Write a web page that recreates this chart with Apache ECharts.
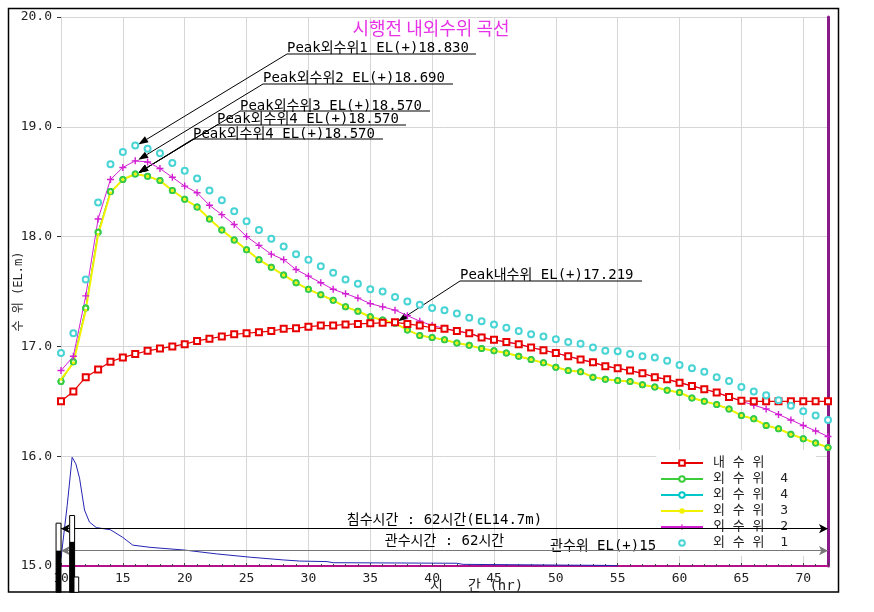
<!DOCTYPE html>
<html>
<head>
<meta charset="utf-8">
<title>시행전 내외수위 곡선</title>
<script src="https://cdn.jsdelivr.net/npm/echarts@6/dist/echarts.min.js"></script>
<style>
  html, body { margin: 0; padding: 0; background: #fff; }
  #main { width: 874px; height: 612px; }
</style>
</head>
<body>
<div id="main"></div>
<script>
// hours on the x axis (hr)
const hours = [10, 11, 12, 13, 14, 15, 16, 17, 18, 19, 20, 21, 22, 23, 24, 25, 26, 27, 28, 29,
  30, 31, 32, 33, 34, 35, 36, 37, 38, 39, 40, 41, 42, 43, 44, 45, 46, 47, 48, 49,
  50, 51, 52, 53, 54, 55, 56, 57, 58, 59, 60, 61, 62, 63, 64, 65, 66, 67, 68, 69,
  70, 71, 72]

// 내수위
const innerLevel = [16.50, 16.59, 16.72, 16.79, 16.86, 16.90, 16.93, 16.96, 16.98, 17.00,
  17.02, 17.05, 17.07, 17.09, 17.11, 17.12, 17.13, 17.14, 17.16, 17.165,
  17.18, 17.19, 17.19, 17.20, 17.205, 17.21, 17.215, 17.219, 17.205, 17.19,
  17.17, 17.16, 17.14, 17.12, 17.08, 17.06, 17.04, 17.02, 16.99, 16.965,
  16.94, 16.91, 16.88, 16.855, 16.82, 16.80, 16.78, 16.755, 16.72, 16.70,
  16.67, 16.64, 16.61, 16.58, 16.54, 16.505, 16.50, 16.50, 16.50, 16.50,
  16.50, 16.50, 16.50]

// 외수위 1
const outer1 = [16.94, 17.12, 17.61, 18.31, 18.66, 18.77, 18.83, 18.80, 18.76, 18.67,
  18.60, 18.53, 18.42, 18.33, 18.23, 18.14, 18.06, 17.98, 17.91, 17.84,
  17.79, 17.73, 17.67, 17.61, 17.57, 17.52, 17.50, 17.45, 17.41, 17.38,
  17.35, 17.33, 17.30, 17.26, 17.23, 17.20, 17.17, 17.14, 17.11, 17.09,
  17.065, 17.04, 17.025, 16.99, 16.96, 16.955, 16.93, 16.91, 16.90, 16.87,
  16.83, 16.80, 16.77, 16.72, 16.685, 16.63, 16.59, 16.555, 16.51, 16.46,
  16.41, 16.37, 16.33]

// 외수위 2
const outer2 = [16.78, 16.91, 17.46, 18.16, 18.52, 18.63, 18.69, 18.68, 18.62, 18.54,
  18.46, 18.40, 18.285, 18.20, 18.11, 18.00, 17.92, 17.84, 17.79, 17.70,
  17.64, 17.58, 17.52, 17.48, 17.44, 17.39, 17.36, 17.33, 17.28, 17.23,
  17.19, 17.165, 17.14, 17.12, 17.085, 17.06, 17.04, 17.02, 16.99, 16.965,
  16.94, 16.91, 16.88, 16.855, 16.82, 16.80, 16.78, 16.755, 16.72, 16.70,
  16.67, 16.64, 16.61, 16.58, 16.54, 16.50, 16.465, 16.43, 16.38, 16.33,
  16.28, 16.23, 16.18]

// 외수위 3
const outer3 = [16.70, 16.85, 17.33, 18.02, 18.40, 18.52, 18.57, 18.55, 18.51, 18.42,
  18.34, 18.27, 18.16, 18.06, 17.97, 17.88, 17.79, 17.72, 17.65, 17.58,
  17.52, 17.47, 17.42, 17.36, 17.32, 17.27, 17.24, 17.21, 17.15, 17.10,
  17.08, 17.06, 17.03, 17.01, 16.98, 16.96, 16.94, 16.91, 16.88, 16.85,
  16.81, 16.78, 16.77, 16.72, 16.70, 16.69, 16.68, 16.65, 16.63, 16.60,
  16.58, 16.53, 16.50, 16.47, 16.43, 16.37, 16.34, 16.28, 16.25, 16.20,
  16.16, 16.12, 16.08]

// 외수위 4
const outer4 = [16.68, 16.86, 17.35, 18.04, 18.41, 18.52, 18.57, 18.55, 18.51, 18.42,
  18.34, 18.27, 18.16, 18.06, 17.97, 17.88, 17.79, 17.72, 17.65, 17.58,
  17.52, 17.47, 17.42, 17.36, 17.32, 17.27, 17.24, 17.21, 17.15, 17.10,
  17.08, 17.06, 17.03, 17.01, 16.98, 16.96, 16.94, 16.91, 16.88, 16.85,
  16.81, 16.78, 16.77, 16.72, 16.70, 16.69, 16.68, 16.65, 16.63, 16.60,
  16.58, 16.53, 16.50, 16.47, 16.43, 16.37, 16.34, 16.28, 16.25, 16.20,
  16.16, 16.12, 16.08]

// lower blue curve (irregular time steps)
const lowT = [10, 10.5, 10.9, 11.2, 11.5, 11.9, 12.3, 12.85, 14.0, 15.0, 15.8, 17.2,
  20.0, 22.6, 25.3, 28.0, 29.3, 31.5, 32.0, 42.0, 42.5, 54.4, 55.0]
const lowV = [15.07, 15.55, 15.99, 15.93, 15.80, 15.51, 15.40, 15.35, 15.33, 15.26, 15.19, 15.17,
  15.145, 15.11, 15.08, 15.055, 15.045, 15.04, 15.03, 15.025, 15.015, 15.005, 15.0]

// black bars at lower left
const barLeft = [9.6, 10.7, 11.05]
const barRight = [10.0, 11.1, 11.43]
const barTop = [15.39, 15.46, 14.90]
const barFill = [15.14, 15.22, null]
const barBase = 14.76

// reference levels
const floodLevel = 15.343
const drainLevel = 15.139

// peak annotations
const peakT = [16, 16, 16, 16, 16, 37]
const peakV = [18.83, 18.69, 18.57, 18.57, 18.57, 17.219]
const peakText = [
  'Peak외수위1 EL(+)18.830',
  'Peak외수위2 EL(+)18.690',
  'Peak외수위3 EL(+)18.570',
  'Peak외수위4 EL(+)18.570',
  'Peak외수위4 EL(+)18.570',
  'Peak내수위 EL(+)17.219',
]

const MONO = '"DejaVu Sans Mono", "Noto Sans CJK KR", monospace'
const pairs = vals => hours.map((h, i) => [h, vals[i]])
const plus = 'path://M4,0H6V10H4ZM0,4H10V6H0Z'

const chart = echarts.init(document.getElementById('main'))

const option = {
  animation: false,
  title: {
    text: '시행전 내외수위 곡선',
    left: 426,
    top: 14,
    textAlign: 'center',
    textStyle: { color: '#e632e6', fontSize: 18, fontWeight: 'normal', fontFamily: '"Noto Sans CJK KR"' },
  },
  legend: {
    orient: 'vertical',
    left: 656,
    top: 450,
    padding: [6, 20, 6, 4],
    itemGap: 2,
    itemWidth: 42,
    itemHeight: 7,
    backgroundColor: '#fff',
    textStyle: { fontFamily: MONO, fontSize: 13, color: '#222', padding: [0, 0, 0, 5], lineHeight: 14 },
    data: ['내 수 위', '외 수 위  4', '외 수 위  4 ', '외 수 위  3', '외 수 위  2', '외 수 위  1'],
  },
  grid: { left: 61, right: 46, top: 17, bottom: 46, outerBoundsMode: 'none' },
  xAxis: {
    type: 'value',
    min: 10,
    max: 72,
    interval: 5,
    name: '시   간 (hr)',
    nameLocation: 'middle',
    nameGap: 13,
    nameMoveOverlap: false,
    nameTextStyle: { fontFamily: MONO, fontSize: 14, color: '#222', padding: [0, 0, 0, 64] },
    axisLine: { onZero: false, lineStyle: { color: '#b4108c', width: 2 } },
    axisTick: { inside: true, length: 3, lineStyle: { color: '#444' } },
    minorTick: { show: true, splitNumber: 5, length: 2, lineStyle: { color: '#444' } },
    axisLabel: { fontFamily: MONO, fontSize: 13, color: '#222', margin: 6, showMaxLabel: false },
    splitLine: { show: true, lineStyle: { color: '#d6d6d6' } },
  },
  yAxis: [{
    type: 'value',
    min: 15,
    max: 20,
    interval: 1,
    name: '수 위 (EL.m)',
    nameLocation: 'middle',
    nameGap: 36,
    nameMoveOverlap: false,
    nameTextStyle: { fontFamily: MONO, fontSize: 12, color: '#222' },
    axisLine: { show: true, lineStyle: { color: '#d6d6d6' } },
    axisTick: { show: true, length: 4, lineStyle: { color: '#333' } },
    axisLabel: { fontFamily: MONO, fontSize: 13, color: '#222', margin: 9, formatter: v => v.toFixed(1) },
    splitLine: { show: true, lineStyle: { color: '#d6d6d6' } },
  }, {
    type: 'value',
    position: 'right',
    min: 15,
    max: 20,
    interval: 1,
    axisLine: { show: true, lineStyle: { color: '#8a1a8a', width: 3 } },
    axisTick: { show: false },
    axisLabel: { show: false },
    splitLine: { show: false },
  }],
  series: [
    {
      name: '외 수 위  4 ',
      type: 'line',
      data: pairs(outer4),
      color: '#00c8c8',
      symbol: 'emptyCircle',
      symbolSize: 5,
      lineStyle: { width: 1 },
    },
    {
      name: '외 수 위  4',
      type: 'line',
      data: pairs(outer4),
      color: '#3acc3a',
      symbol: 'emptyCircle',
      symbolSize: 5,
      itemStyle: { borderWidth: 1.5 },
      lineStyle: { width: 1 },
    },
    {
      name: '외 수 위  3',
      type: 'line',
      data: pairs(outer3),
      color: '#f2f200',
      symbol: 'circle',
      symbolSize: 3,
      lineStyle: { width: 2 },
    },
    {
      name: '외 수 위  2',
      type: 'line',
      data: pairs(outer2),
      color: '#d21ed2',
      symbol: plus,
      symbolSize: 7,
      lineStyle: { width: 1 },
    },
    {
      name: '내 수 위',
      type: 'line',
      data: pairs(innerLevel),
      color: '#e80000',
      symbol: 'emptyRect',
      symbolSize: 6,
      lineStyle: { width: 1.2 },
    },
    {
      name: '외 수 위  1',
      type: 'line',
      data: pairs(outer1),
      color: '#48d4d4',
      symbol: 'emptyCircle',
      symbolSize: 6,
      lineStyle: { opacity: 0 },
    },
    {
      name: 'low',
      type: 'line',
      data: lowT.map((t, i) => [t, lowV[i]]),
      color: '#2424b4',
      symbol: 'none',
      lineStyle: { width: 1 },
      markLine: {
        silent: true,
        symbol: ['arrow', 'arrow'],
        symbolSize: [7, 9],
        label: { position: 'middle', fontFamily: MONO, fontSize: 14, color: '#000', distance: 1 },
        data: [
          { yAxis: floodLevel, lineStyle: { color: '#000', type: 'solid', width: 1 }, label: { formatter: '침수시간 : 62시간(EL14.7m)' } },
          { yAxis: drainLevel, lineStyle: { color: '#777', type: 'solid', width: 1 }, label: { formatter: '관수시간 : 62시간', distance: 2 } },
        ],
      },
    },
    {
      name: 'bars',
      type: 'custom',
      clip: false,
      z: 5,
      encode: { x: [0, 1], y: [2] },
      data: barLeft.map((l, i) => [l, barRight[i], barTop[i], barFill[i] === null ? '-' : barFill[i]]),
      renderItem(params, api) {
        const p0 = api.coord([api.value(0), api.value(2)])
        const p1 = api.coord([api.value(1), barBase])
        const children = [{
          type: 'rect',
          shape: { x: p0[0], y: p0[1], width: p1[0] - p0[0], height: p1[1] - p0[1] },
          style: { fill: '#fff', stroke: '#000', lineWidth: 1 },
        }]
        const f = api.value(3)
        if (!isNaN(f)) {
          const pf = api.coord([api.value(0), f])
          children.push({
            type: 'rect',
            shape: { x: p0[0], y: pf[1], width: p1[0] - p0[0], height: p1[1] - pf[1] },
            style: { fill: '#000' },
          })
        }
        return { type: 'group', children }
      },
    },
  ],
}

chart.setOption(option)

// annotation layout (label placement in pixels)
const annLayout = [
  { x: 287, ty: 48, uy: 54, x2: 476 },
  { x: 263, ty: 78, uy: 84, x2: 453 },
  { x: 240, ty: 106, uy: 111, x2: 430 },
  { x: 217, ty: 119, uy: 125, x2: 406 },
  { x: 193, ty: 134, uy: 139, x2: 383 },
  { x: 460, ty: 275, uy: 281, x2: 642 },
]

const graphics = [{
  type: 'rect',
  shape: { x: 8.5, y: 8.5, width: 830, height: 583.5 },
  style: { fill: 'none', stroke: '#000', lineWidth: 1.5 },
  silent: true,
}, {
  type: 'text',
  x: 550,
  y: 546,
  style: { text: '관수위 EL(+)15.140', font: '14px ' + MONO, fill: '#000', textVerticalAlign: 'middle' },
  silent: true,
}]

annLayout.forEach((lay, i) => {
  const tip = chart.convertToPixel({ xAxisIndex: 0, yAxisIndex: 0 }, [peakT[i], peakV[i]])
  tip[0] += 3
  tip[1] -= 1
  const dx = tip[0] - lay.x
  const dy = tip[1] - lay.uy
  const len = Math.sqrt(dx * dx + dy * dy)
  const ux = dx / len
  const uy = dy / len
  const L = 10
  const W = 3.5
  const bx = tip[0] - ux * L
  const by = tip[1] - uy * L
  graphics.push({
    type: 'text',
    x: lay.x,
    y: lay.ty,
    style: { text: peakText[i], font: '14px ' + MONO, fill: '#000', textVerticalAlign: 'middle' },
    silent: true,
  })
  graphics.push({
    type: 'line',
    shape: { x1: lay.x, y1: lay.uy, x2: lay.x2, y2: lay.uy },
    style: { stroke: '#000', lineWidth: 1 },
    silent: true,
  })
  graphics.push({
    type: 'line',
    shape: { x1: lay.x, y1: lay.uy, x2: bx, y2: by },
    style: { stroke: '#000', lineWidth: 1 },
    silent: true,
  })
  graphics.push({
    type: 'polygon',
    shape: { points: [tip, [bx - uy * W, by + ux * W], [bx + uy * W, by - ux * W]] },
    style: { fill: '#000' },
    silent: true,
  })
})

chart.setOption({ graphic: graphics })
</script>
</body>
</html>
